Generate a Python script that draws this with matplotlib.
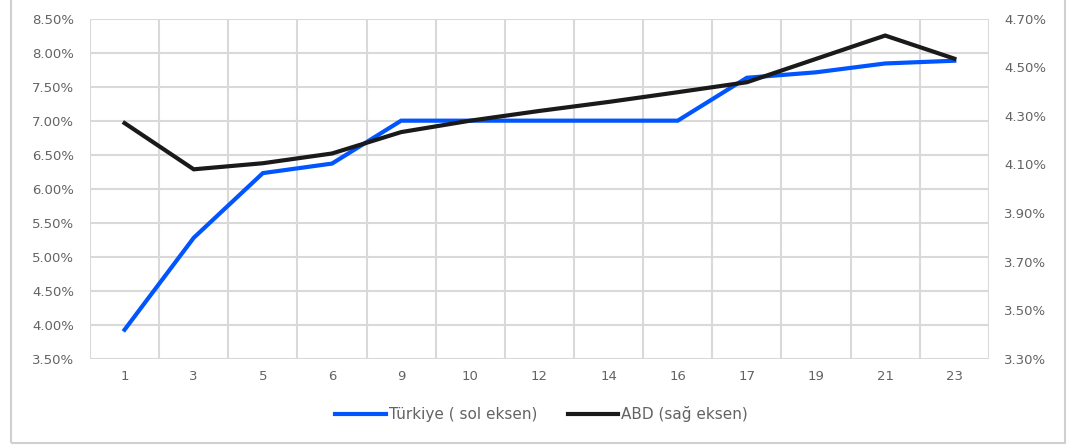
import matplotlib.pyplot as plt
from matplotlib.patches import Rectangle
from matplotlib.ticker import FuncFormatter

vade = ['1', '3', '5', '6', '9', '10', '12', '14', '16', '17', '19', '21', '23']
turkiye = [3.93, 5.28, 6.23, 6.37, 7.00, 7.00, 7.00, 7.00, 7.00, 7.63, 7.71, 7.84, 7.88]
abd = [4.27, 4.08, 4.105, 4.145, 4.233, 4.28, 4.32, 4.357, 4.397, 4.438, 4.534, 4.63, 4.535]
sol_ticks = [3.5, 4.0, 4.5, 5.0, 5.5, 6.0, 6.5, 7.0, 7.5, 8.0, 8.5]
sag_ticks = [3.3, 3.5, 3.7, 3.9, 4.1, 4.3, 4.5, 4.7]

gri = '#636363'
plt.rcParams['font.family'] = ['DejaVu Sans']

fig = plt.figure(figsize=(10.83, 4.46), dpi=100)
ax = fig.add_axes([0.0831, 0.195, 0.830, 0.7635])
ax2 = ax.twinx()

x = list(range(len(vade)))
l1, = ax.plot(x, turkiye, color='#0055ff', lw=3, solid_joinstyle='miter', zorder=3)
l2, = ax2.plot(x, abd, color='#1a1a1a', lw=3, solid_joinstyle='miter', zorder=3)

ax.set_ylim(3.5, 8.5)
ax2.set_ylim(3.3, 4.7)
ax.set_yticks(sol_ticks)
ax2.set_yticks(sag_ticks)
ax.yaxis.set_major_formatter(FuncFormatter(lambda v, p: f'{v:.2f}%'))
ax2.yaxis.set_major_formatter(FuncFormatter(lambda v, p: f'{v:.2f}%'))

ax.set_xlim(-0.5, len(vade) - 0.5)
ax.set_xticks(x)
ax.set_xticklabels(vade)
ax.set_xticks([i - 0.5 for i in range(len(vade) + 1)], minor=True)

ax.grid(True, which='major', axis='y', color='#d9d9d9', lw=1.5)
ax.grid(True, which='minor', axis='x', color='#d9d9d9', lw=1.5)
ax.set_axisbelow(True)

for a in (ax, ax2):
    for s in a.spines.values():
        s.set_visible(False)
    a.tick_params(which='both', length=0, colors=gri, labelsize=9.5)
ax.tick_params(axis='y', pad=11.5)
ax2.tick_params(axis='y', pad=11)
ax.tick_params(axis='x', pad=8)

fig.legend([l1, l2], ['Türkiye ( sol eksen)', 'ABD (sağ eksen)'], loc='center',
           bbox_to_anchor=(0.5, 0.072), ncol=2, frameon=False, fontsize=11,
           labelcolor=gri, handlelength=3.3, handletextpad=0.2, columnspacing=2.0)

fig.patches.append(Rectangle((11 / 1083, 3 / 446), 1054 / 1083, 1.1, transform=fig.transFigure,
                             fill=False, edgecolor='#d0d0d0', lw=1.5))

fig.savefig('out.png', dpi=100)
